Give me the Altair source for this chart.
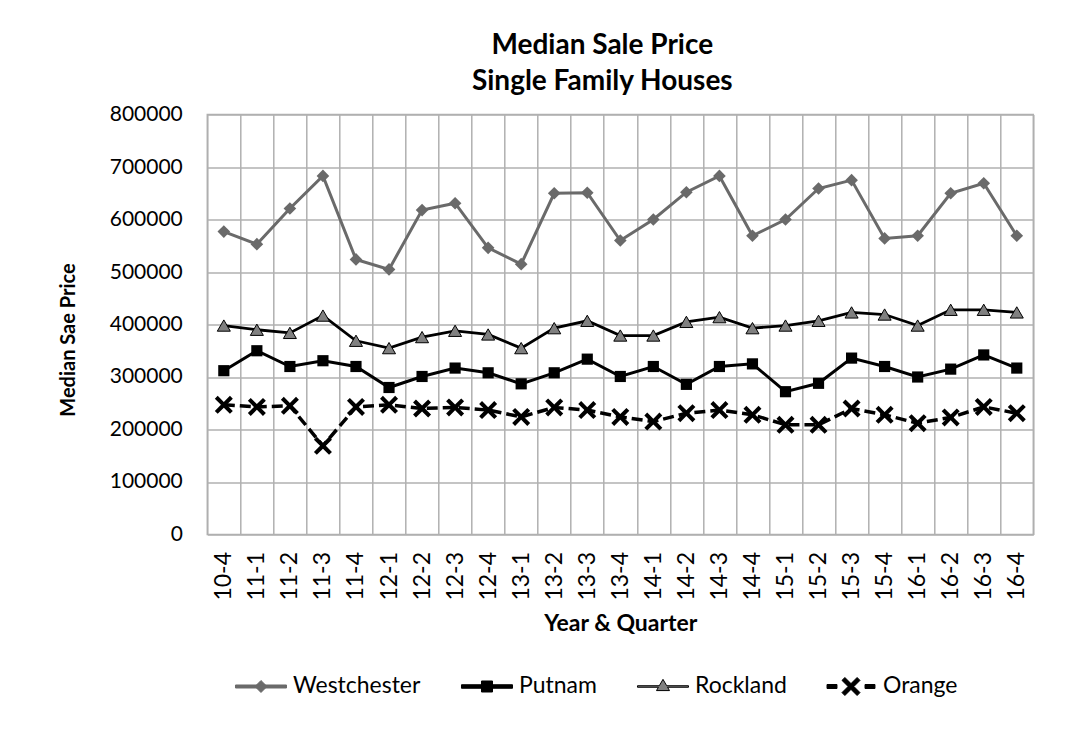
import altair as alt
import pandas as pd

quarters = ["10-4", "11-1", "11-2", "11-3", "11-4", "12-1", "12-2", "12-3", "12-4",
            "13-1", "13-2", "13-3", "13-4", "14-1", "14-2", "14-3", "14-4",
            "15-1", "15-2", "15-3", "15-4", "16-1", "16-2", "16-3", "16-4"]

westchester = [577000, 553000, 621000, 683000, 524000, 505000, 618000, 631000, 546000,
               515000, 650000, 651000, 560000, 600000, 652000, 683000, 569000,
               600000, 659000, 675000, 564000, 569000, 650000, 669000, 569000]
putnam = [312000, 350000, 320000, 331000, 320000, 280000, 301000, 317000, 308000,
          287000, 308000, 334000, 301000, 320000, 286000, 320000, 325000,
          272000, 288000, 336000, 320000, 300000, 315000, 342000, 317000]
rockland = [398000, 390000, 384000, 417000, 369000, 355000, 376000, 388000, 381000,
            355000, 393000, 407000, 379000, 379000, 405000, 414000, 393000,
            398000, 407000, 423000, 419000, 398000, 428000, 428000, 423000]
orange = [247000, 243000, 245000, 169000, 243000, 247000, 240000, 242000, 237000,
          224000, 242000, 237000, 224000, 215000, 231000, 237000, 228000,
          209000, 209000, 240000, 228000, 212000, 223000, 243000, 231000]

series_names = ["Westchester", "Putnam", "Rockland", "Orange"]
y_ticks = [0, 100000, 200000, 300000, 400000, 500000, 600000, 700000, 800000]

rows = []
for name, vals in zip(series_names, [westchester, putnam, rockland, orange]):
    for q, v in zip(quarters, vals):
        rows.append({"quarter": q, "series": name, "price": v})
df = pd.DataFrame(rows)

GRID = "#b0b0b0"
WGRAY = "#6a6a6a"
RFILL = "#808080"
FONT = "Lato"

X_PATH = ("M-1,-0.68L-0.68,-1L0,-0.32L0.68,-1L1,-0.68L0.32,0L1,0.68L0.68,1"
          "L0,0.32L-0.68,1L-1,0.68L-0.32,0Z")

legend_paths = [
    "M-1,-0.059H1V0.059H-1Z M0,-0.235L0.235,0L0,0.235L-0.235,0Z",
    "M-1,-0.069H1V0.069H-1Z M-0.216,-0.216H0.216V0.216H-0.216Z",
    "M-1,-0.03L-0.145,-0.03L0,-0.28L0.145,-0.03L1,-0.03L1,0.03L0.18,0.03L0.255,0.16"
    "L-0.255,0.16L-0.18,0.03L-1,0.03Z",
    "M-0.94,-0.078H-0.55V0.078H-0.94Z M0.55,-0.078H0.94V0.078H0.55Z "
    "M-0.353,-0.240L-0.240,-0.353L0,-0.113L0.240,-0.353L0.353,-0.240L0.113,0"
    "L0.353,0.240L0.240,0.353L0,0.113L-0.240,0.353L-0.353,0.240L-0.113,0Z",
]
legend_fills = [WGRAY, "black", RFILL, "black"]
legend_strokes = [WGRAY, "black", "black", "black"]

x_enc = alt.X(
    "quarter:N", sort=quarters,
    scale=alt.Scale(type="band", paddingInner=0, paddingOuter=0),
    axis=alt.Axis(
        title="Year & Quarter", titleFont=FONT, titleFontSize=23, titleFontWeight="bold",
        titleColor="black", titleY=89.5, titleBaseline="middle",
        labelAngle=270, labelFont=FONT, labelFontSize=23, labelColor="black",
        labelPadding=17, ticks=False, domain=False, grid=True, tickBand="extent",
        gridColor=GRID, gridWidth=1.5,
    ),
)
y_enc = alt.Y(
    "price:Q",
    scale=alt.Scale(domain=[0, 800000], nice=False),
    axis=alt.Axis(
        values=y_ticks, format="d",
        title="Median Sae Price", titleFont=FONT, titleFontSize=20, titleFontWeight="bold",
        titleColor="black", titleAngle=270, titleX=-139, titleY=225,
        titleAlign="center", titleBaseline="middle",
        labelFont=FONT, labelFontSize=21, labelColor="black", labelPadding=25,
        ticks=False, domain=False, grid=True, gridColor=GRID, gridWidth=1.5,
    ),
)

base = alt.Chart(df).encode(x=x_enc, y=y_enc)


def series_layer(name, line_kw, point_kw):
    b = base.transform_filter(alt.datum.series == name)
    return [b.mark_line(**line_kw), b.mark_point(**point_kw)]


layers = []
layers += series_layer("Westchester",
                       dict(color=WGRAY, strokeWidth=3),
                       dict(shape="diamond", size=160, filled=True, color=WGRAY, opacity=1))
layers += series_layer("Putnam",
                       dict(color="black", strokeWidth=3),
                       dict(shape="square", size=125, filled=True, color="black", opacity=1))
layers += series_layer("Rockland",
                       dict(color="black", strokeWidth=2.8),
                       dict(shape="triangle-up", size=170, filled=True, fill=RFILL,
                            stroke="black", strokeWidth=1, opacity=1))
layers += series_layer("Orange",
                       dict(color="black", strokeWidth=3.5, strokeDash=[11, 5]),
                       dict(shape=X_PATH, size=324, filled=True, color="black", opacity=1))

legend_df = pd.DataFrame({"series": series_names, "price": [-400000] * 4})
legend_layer = alt.Chart(legend_df).mark_point(
    filled=True, clip=True, size=2601, strokeWidth=1, opacity=1
).encode(
    y=alt.Y("price:Q"),
    shape=alt.Shape("series:N", scale=alt.Scale(domain=series_names, range=legend_paths),
                    legend=alt.Legend(title=None)),
    fill=alt.Fill("series:N", scale=alt.Scale(domain=series_names, range=legend_fills),
                  legend=alt.Legend(title=None)),
    stroke=alt.Stroke("series:N", scale=alt.Scale(domain=series_names, range=legend_strokes),
                      legend=alt.Legend(title=None)),
)

chart = alt.layer(*layers, legend_layer).properties(
    width=826,
    height=420,
    autosize=alt.AutoSizeParams(type="none"),
    padding={"left": 199.3, "top": 106.5, "right": 40, "bottom": 190},
    background="white",
    title=alt.TitleParams(
        text=["Median Sale Price", "Single Family Houses"],
        font=FONT, fontSize=28, fontWeight="bold", color="black",
        anchor="middle", dx=-18, dy=39, offset=18, lineHeight=37, baseline="bottom",
    ),
).configure_view(
    stroke=GRID, strokeWidth=1.5
).configure_legend(
    orient="none", legendX=27.7, legendY=546, direction="horizontal",
    symbolSize=2601, symbolStrokeWidth=1, labelFont=FONT, labelFontSize=23,
    labelColor="black", labelOffset=6, columnPadding=38, padding=0,
)

chart.save("out.html", embed_options={"renderer": "svg", "actions": False})
